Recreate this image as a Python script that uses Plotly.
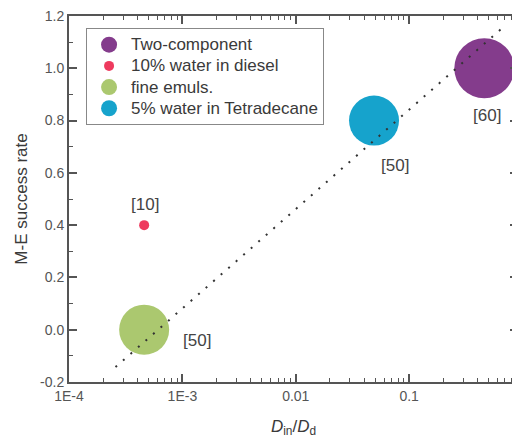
import math
import plotly.graph_objects as go

# ---- data ----
series_names = ["Two-component", "10% water in diesel", "fine emuls.", "5% water in Tetradecane"]
x_values = [0.46, 4.6e-4, 4.6e-4, 0.049]          # D_in / D_d
y_values = [1.0, 0.4, 0.0, 0.8]                    # M-E success rate
ref_labels = ["[60]", "[10]", "[50]", "[50]"]

fit_x = [2.57e-4, 0.70]
fit_y = [-0.143, 1.163]

x_tickvals = [1e-4, 1e-3, 1e-2, 1e-1]
x_ticktext = ["1E-4", "1E-3", "0.01", "0.1"]
y_tickvals = [-0.2, 0.0, 0.2, 0.4, 0.6, 0.8, 1.0, 1.2]
y_ticktext = ["-0.2", "0.0", "0.2", "0.4", "0.6", "0.8", "1.0", "1.2"]

# ---- styles ----
colors = ["#843c8c", "#ee3a5e", "#abc86f", "#16a3cc"]
sizes = [60, 10, 50, 50]
label_shift = [(3, -47), (1, 21), (53, -11), (21, -45)]
AX = "#555555"
TXT = "#3a3a3a"
FONT = "Liberation Sans, Arial, sans-serif"

fig = go.Figure()

for i, name in enumerate(series_names):
    fig.add_trace(go.Scatter(
        x=[x_values[i]], y=[y_values[i]], mode="markers",
        name='<span style="font-size:17px">' + name + "</span>",
        marker=dict(size=sizes[i], color=colors[i], line=dict(width=0), opacity=1),
    ))

fig.add_trace(go.Scatter(
    x=fit_x, y=fit_y, mode="lines", showlegend=False,
    line=dict(color="#333333", width=2, dash="2px,8px"), hoverinfo="skip"))

for i, lab in enumerate(ref_labels):
    fig.add_annotation(x=math.log10(x_values[i]), y=y_values[i], text=lab, showarrow=False,
                       xref="x", yref="y",
                       xshift=label_shift[i][0], yshift=label_shift[i][1],
                       font=dict(size=17, color="#444444", family=FONT))

minor_x = []
for d in [1e-4, 1e-3, 1e-2, 1e-1]:
    for k in range(2, 10):
        minor_x.append(d * k)

# page body has an 8px margin -> figure is 512x431 placed at (8, 8)
fig.update_layout(
    width=512, height=431,
    margin=dict(l=61, r=0, t=8, b=57),
    paper_bgcolor="white", plot_bgcolor="white",
    font=dict(family=FONT, size=14, color=AX),
    legend=dict(x=0.038, y=0.967, xanchor="left", yanchor="top",
                bordercolor="#888888", borderwidth=1, bgcolor="white",
                font=dict(size=14, color=TXT), itemsizing="trace", itemwidth=34,
                tracegroupgap=0),
)

fig.update_xaxes(
    type="log", range=[-4, -0.04],
    tickvals=x_tickvals, ticktext=x_ticktext,
    ticks="inside", ticklen=8, tickwidth=1.5, tickcolor=AX,
    showline=True, linewidth=2, linecolor=AX, mirror="ticks",
    showgrid=False, zeroline=False, ticklabeloverflow="allow",
    minor=dict(tickvals=minor_x, ticks="inside", ticklen=4, tickwidth=1.2, tickcolor=AX, showgrid=False),
    tickfont=dict(size=14, color=AX),
    title=dict(text="<i>D</i><sub>in</sub>/<i>D</i><sub>d</sub>", font=dict(size=17, color=TXT), standoff=17),
)
fig.update_yaxes(
    range=[-0.2, 1.2],
    tickvals=y_tickvals, ticktext=y_ticktext,
    ticks="inside", ticklen=8, tickwidth=1.5, tickcolor=AX,
    showline=True, linewidth=2, linecolor=AX, mirror="ticks",
    showgrid=False, zeroline=False, ticklabeloverflow="allow",
    minor=dict(dtick=0.1, ticks="inside", ticklen=4, tickwidth=1.2, tickcolor=AX, showgrid=False),
    tickfont=dict(size=14, color=AX),
    title=dict(text="M-E success rate", font=dict(size=17, color=TXT), standoff=8),
)

fig.write_html("out.html")
